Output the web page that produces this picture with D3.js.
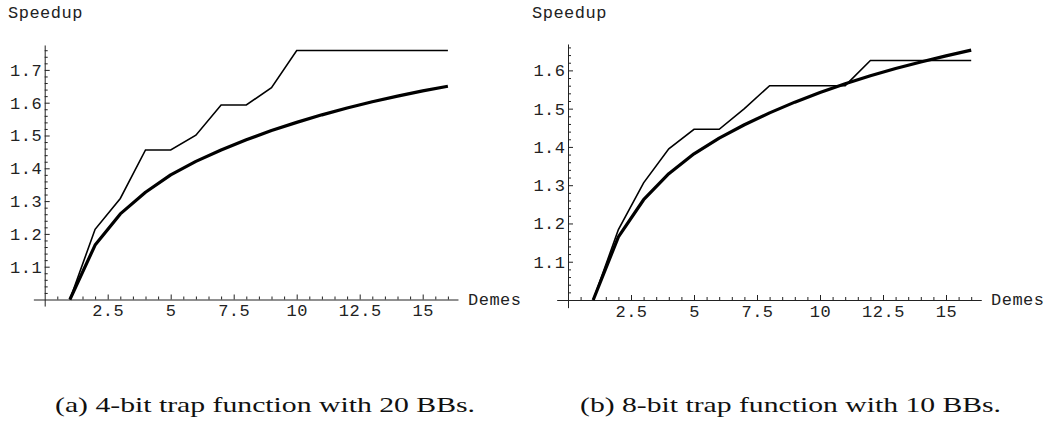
<!DOCTYPE html>
<html>
<head>
<meta charset="utf-8">
<script src="https://cdn.jsdelivr.net/npm/d3@7"></script>
<style>
  html, body { margin: 0; padding: 0; background: #fff; }
  svg { display: block; }
  .mono { font-family: "Liberation Mono", "Courier New", monospace; font-size: 17px; fill: #222; letter-spacing: 0.5px; }
  .cap { font-family: "Liberation Serif", "DejaVu Serif", serif; font-size: 21px; fill: #111; }
</style>
</head>
<body>
<svg id="chart" width="1045" height="425"></svg>
<script>
// ---- data ----
const demes = [1, 2, 3, 4, 5, 6, 7, 8, 9, 10, 11, 12, 13, 14, 15, 16];
const speedupA = [1.0, 1.214, 1.308, 1.456, 1.456, 1.501, 1.593, 1.593, 1.646, 1.759, 1.759, 1.759, 1.759, 1.759, 1.759, 1.759];
const theoryA  = [1.0, 1.166, 1.261, 1.327, 1.380, 1.421, 1.456, 1.487, 1.515, 1.540, 1.563, 1.584, 1.603, 1.620, 1.636, 1.650];
const speedupB = [1.0, 1.184, 1.306, 1.395, 1.446, 1.446, 1.500, 1.560, 1.560, 1.560, 1.560, 1.626, 1.626, 1.626, 1.626, 1.626];
const theoryB  = [1.0, 1.165, 1.262, 1.330, 1.382, 1.423, 1.458, 1.489, 1.517, 1.542, 1.565, 1.586, 1.605, 1.622, 1.638, 1.653];
const xTickLabels = [2.5, 5, 7.5, 10, 12.5, 15];
const yTickLabelsA = [1.1, 1.2, 1.3, 1.4, 1.5, 1.6, 1.7];
const yTickLabelsB = [1.1, 1.2, 1.3, 1.4, 1.5, 1.6];
const xTitle = "Demes";
const yTitle = "Speedup";
const captionA = "(a) 4-bit trap function with 20 BBs.";
const captionB = "(b) 8-bit trap function with 10 BBs.";

const svg = d3.select("#chart");

function panel(opt) {
  const g = svg.append("g");
  const x = d3.scaleLinear().domain([-0.45, 16.4])
    .range([opt.x0 - 0.45 * opt.xu, opt.x0 + 16.4 * opt.xu]);
  const y = d3.scaleLinear().domain([0.98, opt.yTop])
    .range([opt.y1 + 0.02 * opt.yu, opt.y1 - (opt.yTop - 1) * opt.yu]);

  const xMinor = d3.range(0.5, 16.01, 0.5).filter(v => !opt.xTicks.some(t => Math.abs(t - v) < 1e-6));
  const yMinor = d3.range(1.02, opt.yTop, 0.02).filter(v => !opt.yTicks.some(t => Math.abs(t - v) < 1e-6));

  // x axis
  const gx = g.append("g").attr("transform", `translate(0,${y(1)})`);
  gx.call(d3.axisBottom(x).tickValues(opt.xTicks).tickSizeInner(-5).tickSizeOuter(0).tickPadding(4.5)
    .tickFormat(d3.format("")));
  gx.append("g").call(d3.axisBottom(x).tickValues(xMinor).tickSizeInner(-3).tickSizeOuter(0).tickFormat(""))
    .select(".domain").remove();
  // y axis
  const gy = g.append("g").attr("transform", `translate(${x(0)},0)`);
  gy.call(d3.axisLeft(y).tickValues(opt.yTicks).tickSizeInner(-5).tickSizeOuter(0).tickPadding(2.5)
    .tickFormat(d3.format(".1f")));
  gy.append("g").call(d3.axisLeft(y).tickValues(yMinor).tickSizeInner(-3).tickSizeOuter(0).tickFormat(""))
    .select(".domain").remove();

  g.selectAll(".domain, .tick line").attr("stroke", "#222").attr("stroke-width", 1);
  g.selectAll(".tick text").attr("class", "mono")
    .attr("font-family", null).attr("font-size", null);

  g.append("text").attr("class", "mono").attr("x", opt.xTitleX).attr("y", y(1) + 5).text(xTitle);
  g.append("text").attr("class", "mono").attr("x", opt.yTitleX).attr("y", 18).text(yTitle);

  const line = d3.line().x((d, i) => x(demes[i])).y(d => y(d));
  g.append("path").datum(opt.actual).attr("d", line)
    .attr("fill", "none").attr("stroke", "#000").attr("stroke-width", 1.6).attr("stroke-linejoin", "miter");
  g.append("path").datum(opt.theory).attr("d", line)
    .attr("fill", "none").attr("stroke", "#000").attr("stroke-width", 3.2).attr("stroke-linejoin", "round");

  g.append("text").attr("class", "cap").attr("x", opt.capX).attr("y", 412)
    .attr("textLength", opt.capW).attr("lengthAdjust", "spacingAndGlyphs").text(opt.caption);
}

panel({ x0: 44.7, xu: 25.2, y1: 299.5, yu: 328, yTop: 1.776,
  xTicks: xTickLabels, yTicks: yTickLabelsA, actual: speedupA, theory: theoryA,
  xTitleX: 468, yTitleX: 8, capX: 55, capW: 420, caption: captionA });
panel({ x0: 568, xu: 25.2, y1: 300, yu: 382.7, yTop: 1.669,
  xTicks: xTickLabels, yTicks: yTickLabelsB, actual: speedupB, theory: theoryB,
  xTitleX: 991, yTitleX: 532, capX: 580, capW: 421, caption: captionB });
</script>
</body>
</html>
